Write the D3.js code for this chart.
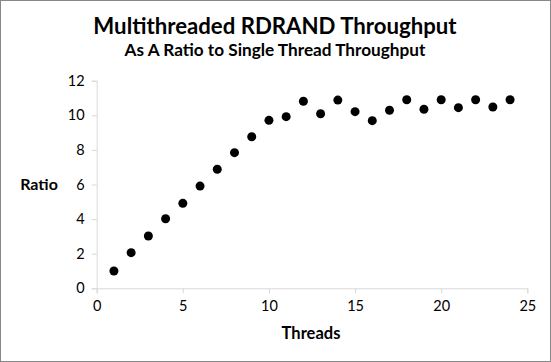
<!DOCTYPE html>
<html><head><meta charset="utf-8">
<script src="https://cdn.jsdelivr.net/npm/d3@7"></script>
<style>body{margin:0;background:#fff}svg{display:block}text{font-family:Lato,"Open Sans",sans-serif}</style>
</head><body>
<script>
const threads = [1,2,3,4,5,6,7,8,9,10,11,12,13,14,15,16,17,18,19,20,21,22,23,24];
const ratio = [1.0,2.06,3.02,4.02,4.91,5.91,6.88,7.84,8.76,9.71,9.92,10.81,10.09,10.88,10.21,9.69,10.29,10.9,10.35,10.9,10.44,10.9,10.48,10.9];
const xTicks = [0,5,10,15,20,25];
const yTicks = [0,2,4,6,8,10,12];
const title = "Multithreaded RDRAND Throughput";
const subtitle = "As A Ratio to Single Thread Throughput";
const xLabel = "Threads", yLabel = "Ratio";

const W=551,H=362;
const svg=d3.select("body").append("svg").attr("width",W).attr("height",H);
svg.append("rect").attr("x",0.5).attr("y",0.5).attr("width",W-1).attr("height",H-1).attr("fill","#fff").attr("stroke","#888");
const x=d3.scaleLinear().domain([0,25]).range([96.7,527.3]);
const y=d3.scaleLinear().domain([0,12]).range([288.3,80.7]);

const xa=svg.append("g").attr("transform","translate(0,288.3)").call(d3.axisBottom(x).tickValues(xTicks).tickSize(5).tickPadding(7));
const ya=svg.append("g").attr("transform","translate(96.7,0)").call(d3.axisLeft(y).tickValues(yTicks).tickSize(5).tickPadding(7));
[xa,ya].forEach(a=>{a.selectAll("path,line").attr("stroke","#d9d9d9");a.selectAll("text").attr("font-size",14.5).attr("fill","#000").style("font-family","Lato");});

svg.append("g").selectAll("circle").data(threads).join("circle")
 .attr("cx",d=>x(d)).attr("cy",(d,i)=>y(ratio[i])).attr("r",4.5).attr("fill","#000");

svg.append("text").attr("x",275).attr("y",33.5).attr("text-anchor","middle").attr("font-size",22.2).attr("font-weight","bold").text(title);
svg.append("text").attr("x",275).attr("y",56).attr("text-anchor","middle").attr("font-size",17.2).attr("font-weight","bold").text(subtitle);
svg.append("text").attr("x",311).attr("y",338.5).attr("text-anchor","middle").attr("font-size",16.5).attr("font-weight","bold").text(xLabel);
svg.append("text").attr("x",39).attr("y",190).attr("text-anchor","middle").attr("font-size",16).attr("font-weight","bold").text(yLabel);
</script>
</body></html>
